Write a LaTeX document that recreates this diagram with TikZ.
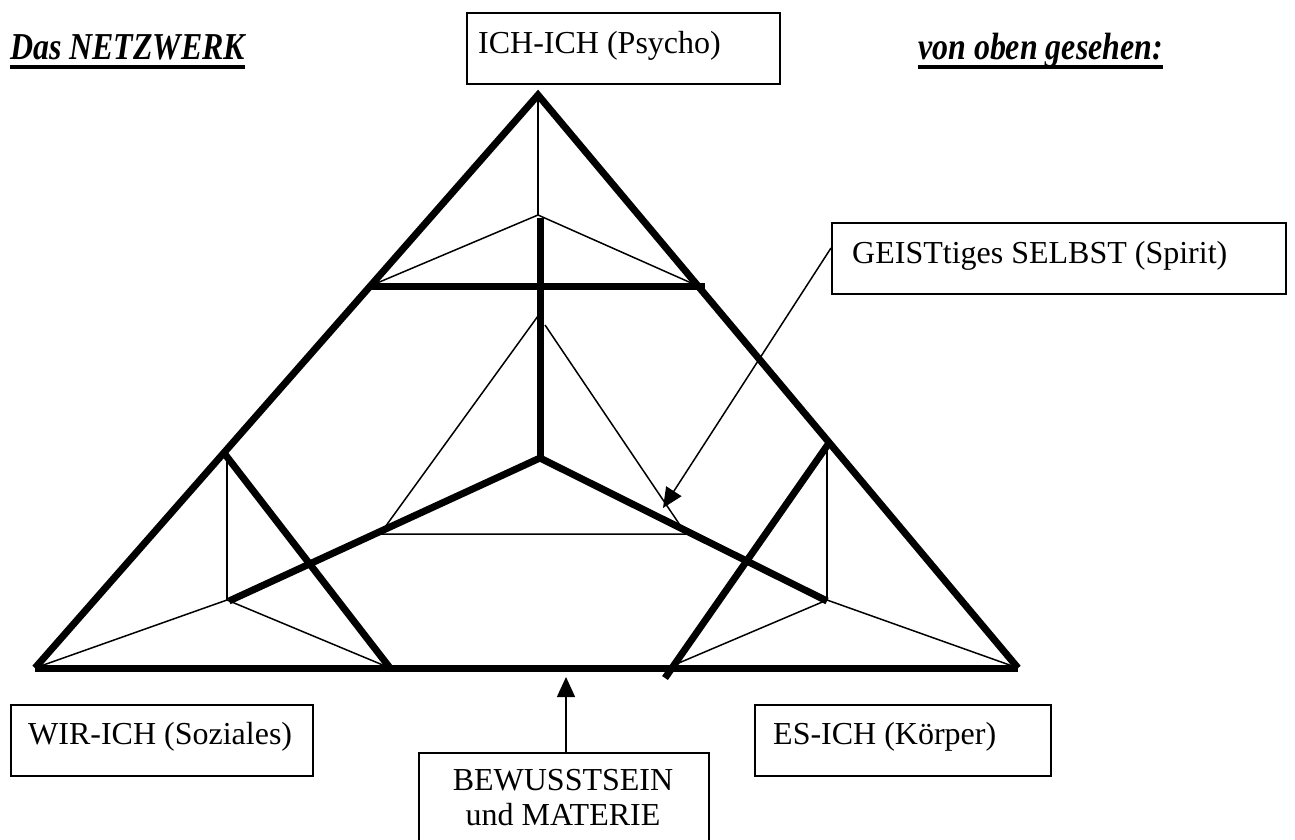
\documentclass[tikz,border=0pt]{standalone}
\usepackage{fontspec}
\setmainfont{Liberation Serif}
\newfontfamily\titlefont[FakeStretch=0.84]{Liberation Serif}
\usetikzlibrary{arrows.meta}
\begin{document}
\begin{tikzpicture}[x=1pt,y=-1pt,
  bold line/.style={line width=7pt,line join=miter},
  fine line/.style={line width=1.5pt},
  frame/.style={draw,line width=1.6pt,anchor=north west,inner sep=0pt,fill=none},
  boxtext/.style={anchor=base west,inner sep=0pt,font=\fontsize{32}{38}\selectfont},
  ctext/.style={anchor=base,inner sep=0pt,font=\fontsize{32}{38}\selectfont},
  titletext/.style={anchor=base west,inner sep=0pt,font=\titlefont\bfseries\itshape\fontsize{38}{44}\selectfont},
  pointer/.style={fine line,-{Triangle[length=20pt,width=18pt]}}]
\useasboundingbox (0,0) rectangle (1295,840);

% titles
\node[titletext] (t1) at (10,60) {Das NETZWERK};
\draw[line width=4pt] ([yshift=-7pt]t1.base west) -- ([yshift=-7pt]t1.base east);
\node[titletext] (t2) at (918,60) {von oben gesehen:};
\draw[line width=4pt] ([yshift=-7pt]t2.base west) -- ([yshift=-7pt]t2.base east);

% boxes
\node[frame,minimum width=313pt,minimum height=71pt] (ich) at (466,12) {};
\node[boxtext] (ichT) at (478,54) {ICH-ICH (Psycho)};
\node[frame,minimum width=454pt,minimum height=71pt] (geist) at (831,222) {};
\node[boxtext] (geistT) at (852,263) {GEISTtiges SELBST (Spirit)};
\node[frame,minimum width=302pt,minimum height=71pt] (wir) at (10,704) {};
\node[boxtext] (wirT) at (28,744) {WIR-ICH (Soziales)};
\node[frame,minimum width=296pt,minimum height=71pt] (es) at (754,704) {};
\node[boxtext] (esT) at (773,744) {ES-ICH (K\"orper)};
\node[frame,minimum width=290pt,minimum height=88pt] (bew) at (418,752) {};
\node[ctext] (bewT1) at (563,790) {BEWUSSTSEIN};
\node[ctext] (bewT2) at (563,825) {und MATERIE};

% points of the network
\coordinate (A) at (538,95);
\coordinate (L) at (35,668);
\coordinate (R) at (1018,668);
\coordinate (T1) at (538,215);
\coordinate (TL) at (370,286);
\coordinate (TR) at (705,286);
\coordinate (TRs) at (698,286);
\coordinate (V1) at (540,218);
\coordinate (C) at (540,458);
\coordinate (I1) at (538,316);
\coordinate (I2) at (545,325);
\coordinate (IL) at (380,534);
\coordinate (IR) at (686,534);
\coordinate (WL) at (229,601);
\coordinate (WR) at (827,601);
\coordinate (SL) at (224,453);
\coordinate (SLt) at (227,456);
\coordinate (PL) at (227,600);
\coordinate (BL) at (390,668);
\coordinate (SR) at (829,443);
\coordinate (SRt) at (827,446);
\coordinate (PR) at (827,600);
\coordinate (BR) at (665,678);
\coordinate (BRt) at (667,668);

% thin lines
\draw[fine line] (A) -- (T1);
\draw[fine line] (TL) -- (T1) -- (TRs);
\draw[fine line] (I1) -- (IL) -- (IR) -- (I2);
\draw[fine line] (SLt) -- (PL);
\draw[fine line] (L) -- (PL) -- (BL);
\draw[fine line] (SRt) -- (PR);
\draw[fine line] (BRt) -- (PR) -- (R);

% thick lines
\draw[bold line] (L) -- (A) -- (R);
\draw[bold line] (L) -- (R);
\draw[bold line] (TL) -- (TR);
\draw[bold line] (V1) -- (C);
\draw[bold line] (WL) -- (C) -- (WR);
\draw[bold line] (SL) -- (BL);
\draw[bold line] (SR) -- (BR);

% pointers
\coordinate (gTip) at (663,508);
\coordinate (bTip) at (566,677);
\draw[pointer] (geist.west |- 0,248) -- (gTip);
\draw[pointer] (bew.north -| bTip) -- (bTip);
\end{tikzpicture}
\end{document}
